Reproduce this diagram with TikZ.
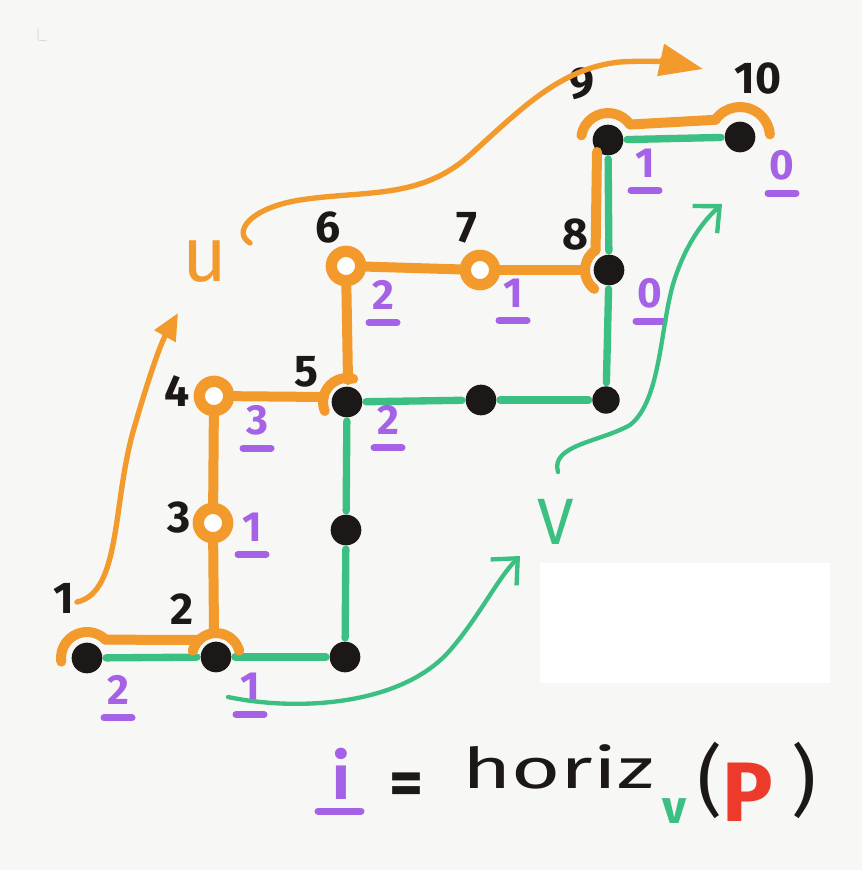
\documentclass[tikz,border=0pt]{standalone}
\usepackage{fontspec}
\setmainfont{Fira Sans}
\usetikzlibrary{arrows.meta}
\definecolor{orng}{HTML}{F39A2C}
\definecolor{grn}{HTML}{3CBF82}
\definecolor{prp}{HTML}{A662E6}
\definecolor{ink}{HTML}{1C1818}
\definecolor{redp}{HTML}{EC3B2B}
\definecolor{paper}{HTML}{F7F7F5}
\begin{document}
\begin{tikzpicture}[x=0.03cm,y=-0.03cm,
  dot/.style={circle,fill=ink,inner sep=0pt,minimum size=0.92cm},
  ring/.style={circle,draw=orng,line width=0.34cm,fill=white,inner sep=0pt,minimum size=0.88cm},
  gline/.style={grn,line width=0.22cm,line cap=round,shorten <=3pt,shorten >=3pt},
  oline/.style={orng,line width=0.3cm,line cap=round},
  oarr/.style={orng,line width=0.16cm,line cap=round,-{Triangle[length=0.8cm,width=0.7cm]}},
  garr/.style={grn,line width=0.13cm,line cap=round,-{Straight Barb[length=0.6cm,width=1.1cm]}},
  blab/.style={ink,font=\fontsize{38}{38}\selectfont\bfseries,inner sep=0pt},
  plab/.style={prp,font=\fontsize{36}{36}\selectfont\bfseries,inner sep=0pt},
  pul/.style={prp,line width=0.21cm,line cap=round},
]
\fill[paper] (0,0) rectangle (862,870);
\useasboundingbox (0,0) rectangle (862,870);
\fill[white] (540,563) rectangle (830,683);
\draw[gray!35,line width=0.6pt] (38,28) -- (38,40) -- (47,41);

% black dots (path v)
\node[dot] (b1) at (87,658) {};
\node[dot] (b2) at (216,657) {};
\node[dot] (b3) at (345,657) {};
\node[dot] (b4) at (346,530) {};
\node[dot] (b5) at (347,402) {};
\node[dot] (b6) at (481,400) {};
\node[dot,minimum size=0.82cm] (b7) at (606,400) {};
\node[dot] (b8) at (609,270) {};
\node[dot] (b9) at (608,140) {};
\node[dot] (b10) at (740,137) {};

% green path
\draw[gline] (b1) -- (b2);
\draw[gline] (b2) -- (b3);
\draw[gline] (b3) -- (b4);
\draw[gline] (b4) -- (b5);
\draw[gline] (b5) -- (b6);
\draw[gline] (b6) -- (b7);
\draw[gline] (b7) -- (b8);
\draw[gline] (b8) -- (b9);
\draw[gline] (b9) -- (b10);

% orange rings
\node[ring] (o3) at (213,523) {};
\node[ring] (o4) at (214,396) {};
\node[ring] (o6) at (346,266) {};
\node[ring] (o7) at (480,270) {};

% orange caps around black dots
\draw[oline] (b1.center) ++(172:26) arc[start angle=172,end angle=315,radius=26] coordinate (a1e);
\draw[oline] (b2.center) ++(195:24) arc[start angle=195,end angle=345,radius=24];
\coordinate (a2l) at (199,640);
\coordinate (a2t) at (214,633);
\draw[oline] (b5.center) ++(158:24) arc[start angle=158,end angle=285,radius=24];
\coordinate (a5t) at (348,380);
\coordinate (a5l) at (324,397);
\draw[oline] (b8.center) ++(128:24) arc[start angle=128,end angle=236,radius=24] coordinate (a8t);
\coordinate (a8l) at (585,270);
\coordinate (a8up) at (597,152);
\draw[oline] (b9.center) ++(190:27) arc[start angle=190,end angle=325,radius=27] coordinate (a9e);
\draw[oline] (b10.center) ++(215:30) coordinate (a10s) arc[start angle=215,end angle=355,radius=30];

% orange path
\draw[oline] (a1e) -- (a2l);
\draw[oline] (a2t) -- (o3);
\draw[oline] (o3) -- (o4);
\draw[oline] (o4) -- (a5l);
\draw[oline] (a5t) -- (o6);
\draw[oline] (o6) -- (o7);
\draw[oline] (o7) -- (a8l);
\draw[oline] (a8t) -- (a8up);
\draw[oline] (a9e) -- (a10s);

% black labels
\node[blab] (l1) at (64,598) {1};
\node[blab] (l2) at (182,609) {2};
\node[blab] (l3) at (179,518) {3};
\node[blab] (l4) at (177,391) {4};
\node[blab] (l5) at (306,372) {5};
\node[blab] (l6) at (328,228) {6};
\node[blab] (l7) at (467,228) {7};
\node[blab] (l8) at (575,235) {8};
\node[blab] (l9) at (582,84) {9};
\node[blab] (l10) at (758,79) {10};

% purple underlined labels
\foreach \n/\x/\y/\t in {q1/118/690/2, q2/250/687/1, q3/252/527/1, q4/257/420/3, q5/388/420/2,
  q6/383/295/2, q7/513/293/1, q8/650/293/0, q9/645/163/1, q10/782/165/0}{
  \node[plab] (\n) at (\x,\y) {\t};
  \draw[pul] ([shift={(-14,13)}]\n.south) -- ++(28,0);
}

% u and v labels
\node[orng,font=\fontsize{66}{66}\selectfont,inner sep=0pt] (u) at (205,262) {u};
\node[grn,font=\fontsize{56}{56}\selectfont,inner sep=0pt] (v) at (556,522) {V};

% orange arrows
\coordinate (ua0) at (77,602);
\coordinate (ua1) at (178,313);
\draw[oarr] (ua0) .. controls (122,592) and (112,500) .. (135,425) .. controls (148,380) and (160,345) .. (ua1);
\coordinate (ub0) at (250,243);
\coordinate (ub1) at (703,69);
\draw[oarr,-{Triangle[length=1.3cm,width=0.95cm]}] (ub0) .. controls (232,232) and (250,208) .. (300,200)
  .. controls (365,190) and (420,200) .. (470,155) .. controls (520,110) and (560,68) .. (620,62)
  .. controls (650,60) and (675,63) .. (ub1);

% green arrows
\coordinate (ga0) at (228,697);
\coordinate (ga1) at (520,556);
\draw[garr] (ga0) .. controls (300,712) and (405,705) .. (452,648) .. controls (480,615) and (498,578) .. (ga1);
\coordinate (gb0) at (558,472);
\coordinate (gb1) at (722,204);
\draw[garr] (gb0) .. controls (550,445) and (600,442) .. (630,425) .. controls (662,400) and (660,322) .. (675,278)
  .. controls (685,248) and (700,224) .. (gb1);

% formula
\node[prp,font=\fontsize{54}{54}\selectfont\bfseries,inner sep=0pt,anchor=base] (fi) at (341,799) {i};
\draw[pul] (318,811) -- (361,811);
\node[ink,font=\fontsize{56}{56}\selectfont\bfseries,inner sep=0pt] (feq) at (407,789) {=};
\node[ink,font=\fontsize{48}{48}\selectfont,inner sep=0pt,anchor=base,xscale=1.5] (fh) at (558,788) {horiz};
\node[grn,font=\fontsize{40}{40}\selectfont\bfseries,inner sep=0pt] (fv) at (675,811) {v};
\node[ink,font=\fontsize{66}{66}\selectfont,inner sep=0pt] (fl) at (710,780) {(};
\node[redp,font=\fontsize{72}{72}\selectfont\bfseries,inner sep=0pt,anchor=north] (fp) at (748,763) {P};
\node[ink,font=\fontsize{66}{66}\selectfont,inner sep=0pt] (fr) at (804,780) {)};
\end{tikzpicture}
\end{document}
